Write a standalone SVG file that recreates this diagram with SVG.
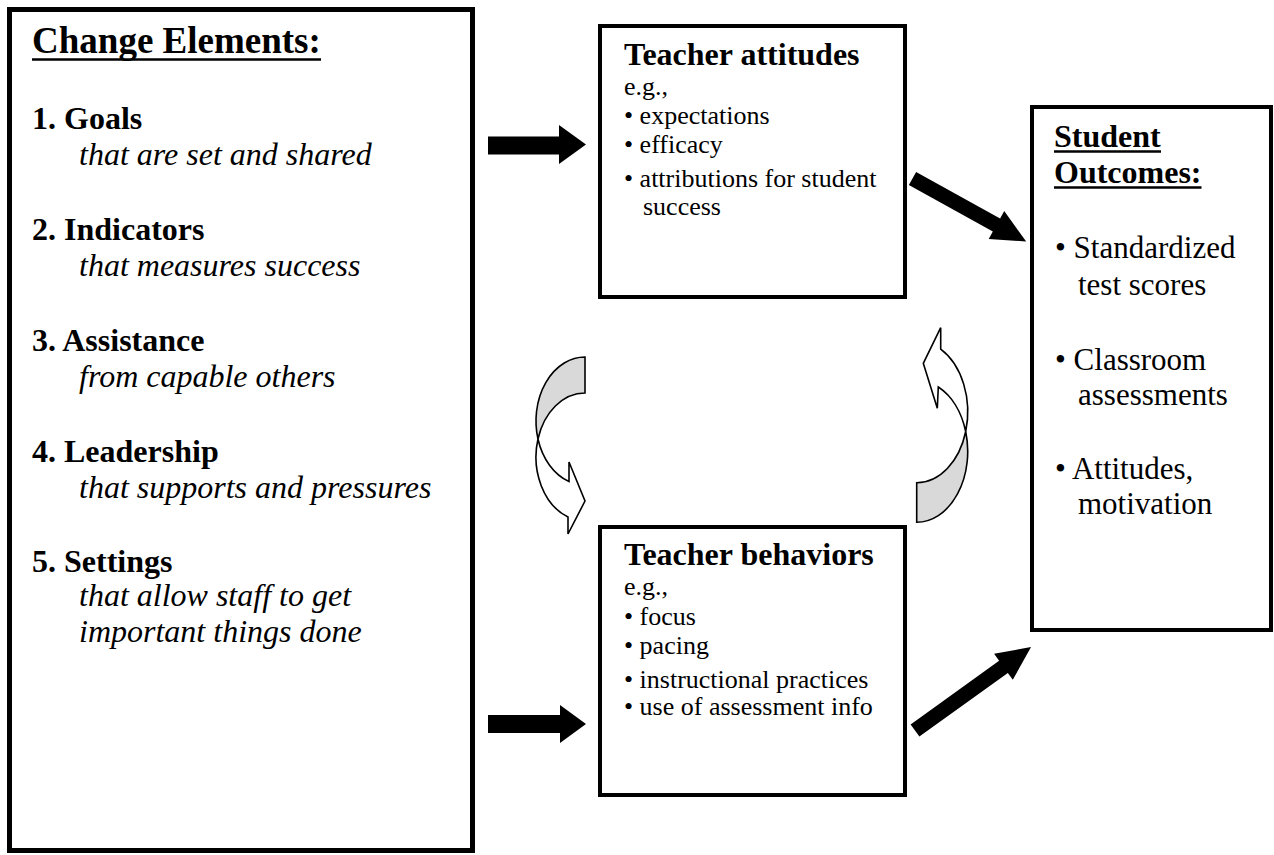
<svg xmlns="http://www.w3.org/2000/svg" width="1274" height="855" viewBox="0 0 1274 855">
<style>
text { font-family: "Liberation Serif", "Times New Roman", serif; fill: #000; }
.box { fill: #fff; stroke: #000; stroke-width: 4; }
.h1 { font-size: 37px; font-weight: bold; }
.h { font-size: 32px; font-weight: bold; }
.it { font-size: 32px; font-style: italic; }
.b { font-size: 26px; }
.s { font-size: 31px; }
.ul { stroke: #000; stroke-width: 2.5; }
.solid { fill: #000; stroke: none; }
.back { fill: #d9d9d9; stroke: #000; stroke-width: 1.6; stroke-linejoin: miter; }
.front { fill: #fff; stroke: #000; stroke-width: 1.6; stroke-linejoin: miter; }
</style>
<rect x="0" y="0" width="1274" height="855" fill="#fff"/>

<g id="change-elements">
  <rect x="9.5" y="9.5" width="463" height="841" fill="#fff" stroke="#000" stroke-width="5"/>
  <text class="h1" x="32" y="53">Change Elements:</text>
  <line class="ul" x1="32" y1="59.5" x2="321" y2="59.5"/>
  <text class="h" x="32" y="129">1. Goals</text>
  <text class="it" x="79" y="165">that are set and shared</text>
  <text class="h" x="32" y="240">2. Indicators</text>
  <text class="it" x="79" y="276">that measures success</text>
  <text class="h" x="32" y="351">3. Assistance</text>
  <text class="it" x="79" y="387">from capable others</text>
  <text class="h" x="32" y="462">4. Leadership</text>
  <text class="it" x="79" y="498">that supports and pressures</text>
  <text class="h" x="32" y="572">5. Settings</text>
  <text class="it" x="79" y="606">that allow staff to get<tspan x="79" dy="35.6">important things done</tspan></text>
</g>

<g id="teacher-attitudes">
  <rect class="box" x="600" y="26" width="305" height="271"/>
  <text class="h" x="624" y="65">Teacher attitudes</text>
  <text class="b" x="624" y="95">e.g.,</text>
  <text class="b" x="624" y="124">• expectations</text>
  <text class="b" x="624" y="153">• efficacy</text>
  <text class="b" x="624" y="187">• attributions for student<tspan x="643" dy="28">success</tspan></text>
</g>

<g id="teacher-behaviors">
  <rect class="box" x="600" y="527" width="305" height="268"/>
  <text class="h" x="624" y="565">Teacher behaviors</text>
  <text class="b" x="624" y="595">e.g.,</text>
  <text class="b" x="624" y="625">• focus</text>
  <text class="b" x="624" y="654">• pacing</text>
  <text class="b" x="624" y="688">• instructional practices</text>
  <text class="b" x="624" y="715">• use of assessment info</text>
</g>

<g id="student-outcomes">
  <rect class="box" x="1032" y="107" width="239" height="523"/>
  <text class="h" x="1054" y="147">Student</text>
  <line class="ul" x1="1054" y1="151.5" x2="1161" y2="151.5"/>
  <text class="h" x="1054" y="183">Outcomes:</text>
  <line class="ul" x1="1054" y1="187.5" x2="1201.5" y2="187.5"/>
  <text class="s" x="1055" y="258">• Standardized<tspan x="1078" dy="37">test scores</tspan></text>
  <text class="s" x="1055" y="370">• Classroom<tspan x="1078" dy="35">assessments</tspan></text>
  <text class="s" x="1055" y="479">• Attitudes,<tspan x="1078" dy="34.5">motivation</tspan></text>
</g>

<g id="connectors">
  <path class="solid" d="M488,136.5 L559,136.5 L559,125 L586,144.5 L559,164 L559,154.5 L488,154.5 Z"/>
  <path class="solid" d="M488,715 L560,715 L560,705 L586,724 L560,743 L560,733 L488,733 Z"/>
  <polygon class="solid" transform="translate(912.5,178.5) rotate(29)" points="0,-7.5 96,-7.5 96,-16 130,0 96,16 96,7.5 0,7.5"/>
  <polygon class="solid" transform="translate(915,730.5) rotate(-35.75)" points="0,-7.5 109,-7.5 109,-16 143,0 109,16 109,7.5 0,7.5"/>
  <g id="curved-left">
    <path class="back" d="M585,357 A49,64 0 0 0 537.97,439 A49,64 0 0 1 585,393 Z"/>
    <path class="front" d="M537.97,439 A49,64 0 0 0 569,481.5 L569,462 L585,501 L568,534 L568,517 A49,64 0 0 1 537.97,439 Z"/>
  </g>
  <g id="curved-right">
    <path class="back" d="M916.7,482.7 A51,71 0 0 0 965.7,431.5 A51,71 0 0 1 916.7,522.3 Z"/>
    <path class="front" d="M965.7,431.5 A51,71 0 0 0 940.7,349.1 L940.7,327.7 L923.3,363.3 L937.3,408.3 L938.3,387 A51,71 0 0 1 965.7,431.5 Z"/>
  </g>
</g>
</svg>
